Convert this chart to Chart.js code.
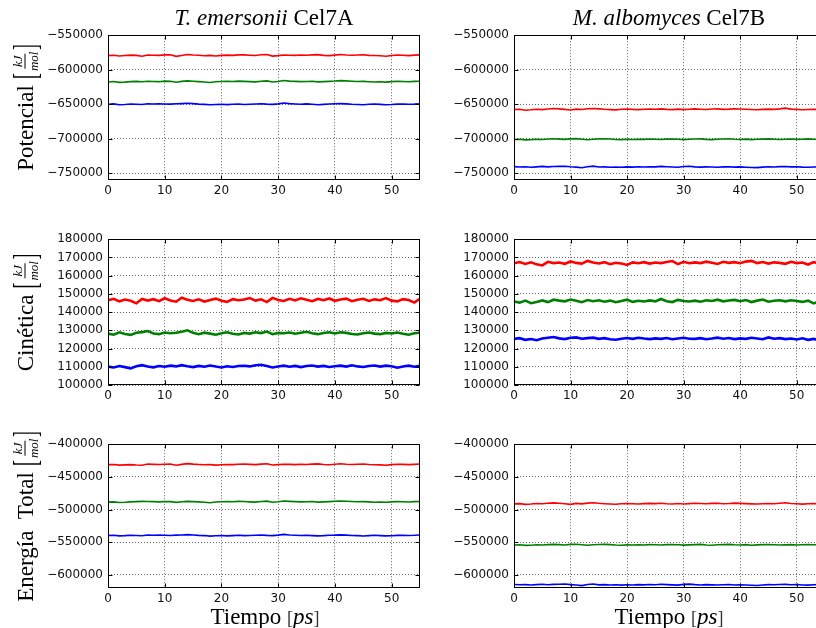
<!DOCTYPE html>
<html>
<head>
<meta charset="utf-8">
<script src="https://cdn.jsdelivr.net/npm/chart.js@4.4.1/dist/chart.umd.min.js"></script>
<style>
  html,body{margin:0;padding:0;background:#fff;}
  #root{position:relative;width:816px;height:628px;overflow:hidden;background:#fff;}
  canvas{position:absolute;}
  .ttl{position:absolute;font-family:'Liberation Serif',serif;font-size:23px;line-height:26px;white-space:nowrap;transform:translateX(-50%);color:#000;}
  .ttl i{font-style:italic;}
  .ylab{position:absolute;font-family:'Liberation Serif',serif;font-size:23px;white-space:nowrap;transform:translate(-50%,-50%) rotate(-90deg);display:flex;align-items:center;color:#000;}
  .frac{display:inline-flex;flex-direction:column;align-items:center;font-style:italic;font-size:13px;line-height:13px;margin:0 1px;}
  .frac .num{border-bottom:1px solid #000;padding:0 2px 1px 2px;}
  .frac .den{padding-top:1px;}
  .br{display:inline-block;font-size:22px;transform:scale(0.8,1.5);font-weight:normal;}
  .xlab{position:absolute;font-family:'Liberation Serif',serif;font-size:23px;line-height:26px;white-space:nowrap;transform:translate(-50%,-50%);color:#000;}
  .xlab .sb{font-size:18px;color:#333;}
</style>
</head>
<body>
<div id="root"></div>
<script>
// ---------------- DATA ----------------
const tiempo = [0,1,2,3,4,5,6,7,8,9,10,11,12,13,14,15,16,17,18,19,20,21,22,23,24,25,26,27,
  28,29,30,31,32,33,34,35,36,37,38,39,40,41,42,43,44,45,46,47,48,49,50,51,52,53,54,55];
const xTicks = [0,10,20,30,40,50];
const potTicks = [-750000,-700000,-650000,-600000,-550000];
const cinTicks = [100000,110000,120000,130000,140000,150000,160000,170000,180000];
const totTicks = [-600000,-550000,-500000,-450000,-400000];

// Potencial – T. emersonii Cel7A
const potTeRojo = [-579600,-579100,-580200,-579400,-578900,-579300,-580600,-578800,
  -579000,-579200,-578600,-578500,-580700,-579400,-578100,-578700,
  -579100,-579700,-579300,-580100,-579300,-578900,-579200,-578600,
  -578500,-579000,-579400,-578300,-577900,-580300,-579600,-578700,
  -579000,-579300,-578800,-579100,-578600,-578200,-579200,-579600,
  -578900,-578100,-578700,-579100,-578800,-578400,-579200,-579500,
  -579800,-580500,-579400,-578700,-579000,-579600,-578900,-578500];
const potTeVerde = [-617800,-617200,-618400,-618000,-617300,-616900,-617500,-616800,
  -617100,-617400,-616600,-616900,-618200,-617000,-616300,-616700,
  -617300,-617900,-618600,-617400,-617100,-616800,-617200,-616600,
  -616900,-617300,-617700,-616700,-616200,-617900,-617100,-615800,
  -616600,-617000,-617400,-617100,-616800,-617700,-617300,-616900,
  -616500,-615900,-616300,-616800,-617200,-616900,-617400,-617800,
  -617600,-618000,-617300,-616800,-617100,-617500,-617000,-616700];
const potTeAzul = [-650200,-649600,-650800,-650400,-649700,-650100,-650600,-649500,
  -649800,-649400,-649700,-650000,-649500,-649200,-648800,-649300,
  -650000,-650300,-650900,-650500,-650100,-650700,-650200,-649800,
  -650400,-650100,-649800,-649400,-650000,-650300,-649600,-648400,
  -649200,-649700,-650100,-649600,-650200,-650800,-650300,-649700,
  -649500,-649200,-649600,-650100,-650400,-650900,-650200,-649800,
  -650300,-650800,-650500,-650000,-649700,-650200,-649900,-649400];

// Potencial – M. albomyces Cel7B
const potMaRojo = [-657800,-657400,-658800,-658200,-657300,-657900,-657000,-656400,
  -656900,-657600,-658500,-657200,-657800,-656700,-656200,-656900,
  -657500,-657900,-658300,-657400,-657100,-657600,-657900,-657300,
  -657000,-657400,-656800,-657600,-657900,-657200,-658000,-657400,
  -656900,-657300,-657700,-657100,-656800,-657500,-657200,-656700,
  -657000,-657400,-657800,-658100,-657600,-657200,-657500,-656800,
  -655800,-657200,-657600,-658200,-657700,-657300,-657900,-657500];
const potMaVerde = [-701300,-700900,-701800,-701500,-700800,-701200,-700600,-700200,
  -700700,-701100,-700300,-700000,-700800,-701600,-700900,-700400,
  -700200,-700600,-701200,-701500,-701000,-701300,-700800,-701100,
  -700600,-700900,-701300,-700700,-700500,-700900,-701400,-701000,
  -700600,-700300,-701100,-701500,-700900,-700600,-700200,-700800,
  -701200,-700700,-701500,-701000,-700700,-700400,-700900,-701300,
  -701000,-700600,-701100,-700800,-700400,-700900,-701300,-700800];
const potMaAzul = [-740600,-741100,-740800,-741400,-740900,-740300,-741000,-740500,
  -740200,-740000,-740800,-741300,-742300,-740700,-739900,-741200,
  -740900,-741400,-741100,-741600,-741000,-741300,-740800,-741200,
  -740700,-741000,-740300,-740800,-741200,-741600,-740500,-740100,
  -740900,-741300,-740900,-741200,-741500,-741000,-740700,-741300,
  -741000,-741400,-741800,-742100,-741300,-740800,-741100,-740600,
  -740500,-741000,-740700,-741300,-741600,-741100,-740800,-741300];

// Cinética – T. emersonii Cel7A
const cinTeRojo = [146500,147300,145900,146900,146200,144800,147200,146300,
  147100,146000,147600,146400,145700,147900,146800,146100,
  147000,145800,146700,147400,146200,145600,147100,146500,
  146900,147700,146300,147000,145500,147800,146600,146100,
  147300,146400,147600,146800,146000,147200,146500,147500,
  146200,146900,147400,146000,146800,147300,146100,147000,
  146500,147700,146300,145900,147100,146600,145200,147400];
const cinTeVerde = [128200,127600,128900,128000,127500,128700,129000,129600,
  128300,127900,128800,128400,128700,129200,130000,128600,
  127900,128700,128200,127600,128400,128900,128100,127700,
  128600,128200,128900,128500,129300,127900,128600,128400,
  128800,128100,128700,129200,128400,127900,128500,128900,
  128300,128900,128600,128000,127700,128400,128800,128200,
  127900,128600,128300,128800,128100,127600,128400,128700];
const cinTeAzul = [110100,109600,110400,109800,109100,110300,110900,110200,
  109700,110400,110000,110600,110200,110900,110300,109800,
  110500,110000,110700,110100,109600,110300,109900,110400,
  110600,110200,110800,111100,110400,109600,110200,110600,
  110000,110500,109800,110400,110700,110100,110500,109900,
  110300,110600,110100,110800,110200,109900,110400,110700,
  110100,110600,110300,109500,110200,110600,110000,110500];

// Cinética – M. albomyces Cel7B
const cinMaRojo = [166800,167500,166400,167300,166200,165600,167600,166900,
  167200,166500,167800,167000,166600,168100,167200,166700,
  167400,166300,167100,166700,165900,167300,166800,167400,
  166600,167200,166900,167500,168000,166300,167600,166800,
  167300,166900,167700,167100,166400,167600,167000,167400,
  166800,167700,168100,166900,167500,166600,167300,167000,
  166500,167600,166900,167200,166100,167400,166800,167300];
const cinMaVerde = [145800,145200,146300,144900,145600,146400,145500,146800,
  146300,145900,146900,146200,145400,146600,146000,146500,
  145700,146300,145400,146100,146800,145600,146200,145800,
  146400,145900,147200,146000,145500,146700,146100,145800,
  146300,145700,146500,146100,146800,145900,146400,146700,
  146000,146600,145500,146300,146900,145700,146200,146500,
  145900,146500,146100,145600,146300,144800,146000,146400];
const cinMaAzul = [125300,125700,124800,125200,124600,125500,125900,126300,
  125600,125200,125900,126100,125400,125700,126000,125300,
  125700,125100,124800,125400,125800,125300,125900,125500,
  125200,125600,125300,125800,125100,125500,125900,125400,
  125300,125700,125100,125500,126000,125400,125800,125200,
  125600,125300,125900,125500,125100,126100,125400,125700,
  125200,125500,125000,125600,124800,125300,124600,125500];

// Energía Total – T. emersonii Cel7A
const totTeRojo = [-431300,-431000,-432000,-431600,-431200,-431800,-432100,-430400,
  -430800,-431100,-430600,-430300,-432200,-430900,-429800,-430500,
  -431000,-431400,-431200,-432000,-431500,-431100,-431300,-430700,
  -430400,-430800,-431200,-430500,-430000,-431900,-431200,-430600,
  -430900,-431200,-430700,-431000,-430500,-430100,-431100,-431400,
  -430700,-430000,-430600,-431000,-430700,-430300,-431100,-431400,
  -431700,-432300,-431300,-430600,-430900,-431300,-430800,-430400];
const totTeVerde = [-488600,-488200,-489200,-488900,-488300,-487900,-487500,-487600,
  -487900,-488300,-487600,-487900,-489000,-488100,-487400,-487800,
  -488300,-488900,-489600,-488400,-488000,-487700,-488100,-487500,
  -487700,-488200,-488600,-487700,-487100,-488800,-488000,-487000,
  -487400,-487900,-488300,-488000,-487700,-488600,-488200,-487800,
  -487300,-486800,-487200,-487700,-488100,-487800,-488300,-488700,
  -488500,-488900,-488200,-487700,-488000,-488400,-487900,-487600];
const totTeAzul = [-539600,-539200,-540300,-539900,-539300,-539700,-540100,-539000,
  -539300,-538900,-539300,-539600,-539100,-538800,-538400,-538900,
  -539500,-539800,-540600,-540100,-539700,-540200,-539800,-539400,
  -539900,-539600,-539300,-538900,-539500,-539800,-539100,-538000,
  -538800,-539300,-539700,-539200,-539800,-540300,-539900,-539300,
  -539100,-538700,-539100,-539600,-539900,-540400,-539800,-539400,
  -539800,-540300,-540000,-539500,-539200,-539700,-539400,-538900];

// Energía Total – M. albomyces Cel7B
const totMaRojo = [-491300,-490900,-492100,-491600,-490700,-491200,-490400,-489700,
  -490300,-491000,-492000,-490600,-491300,-490100,-489600,-490400,
  -491000,-491500,-491900,-491000,-490700,-491200,-491600,-490900,
  -490500,-490900,-490300,-491100,-491500,-490700,-491400,-490900,
  -490400,-490800,-491200,-490600,-490300,-491000,-490700,-490200,
  -490500,-490900,-491300,-491600,-491100,-490700,-491000,-490300,
  -489500,-490700,-491100,-491700,-491200,-490800,-491400,-491000];
const totMaVerde = [-554300,-553900,-554800,-554500,-553800,-554200,-553600,-553200,
  -553700,-554100,-553300,-553000,-553800,-554600,-553900,-553400,
  -553200,-553600,-554200,-554500,-554000,-554300,-553800,-554100,
  -553600,-553900,-554300,-553700,-553500,-553900,-554400,-554000,
  -553600,-553300,-554100,-554500,-553900,-553600,-553200,-553800,
  -554200,-553700,-554500,-554000,-553700,-553400,-553900,-554300,
  -554000,-553600,-554100,-553800,-553400,-553900,-554300,-553800];
const totMaAzul = [-614600,-615100,-614800,-615400,-614900,-614300,-615000,-614500,
  -614200,-614000,-614800,-615300,-616300,-614700,-613900,-615200,
  -614900,-615400,-615100,-615600,-615000,-615300,-614800,-615200,
  -614700,-615000,-614300,-614800,-615200,-615600,-614500,-614100,
  -614900,-615300,-614900,-615200,-615500,-615000,-614700,-615300,
  -615000,-615400,-615800,-616100,-615300,-614800,-615100,-614600,
  -614500,-615000,-614700,-615300,-615600,-615100,-614800,-615300];

// ---------------- LAYOUT / STYLE ----------------
const colores = ['#ff0000', '#008000', '#0000ff'];
const cols = [{l:108, r:420}, {l:514, r:825}];
const rows = [
  {t:35, b:180, min:-760000, max:-550000, ticks:potTicks, lw:1.6},
  {t:239, b:385, min:100000, max:180000, ticks:cinTicks, lw:2.6},
  {t:444, b:588, min:-620000, max:-400000, ticks:totTicks, lw:1.6}
];
const seriesGrid = [
  [[potTeRojo, potTeVerde, potTeAzul], [potMaRojo, potMaVerde, potMaAzul]],
  [[cinTeRojo, cinTeVerde, cinTeAzul], [cinMaRojo, cinMaVerde, cinMaAzul]],
  [[totTeRojo, totTeVerde, totTeAzul], [totMaRojo, totMaVerde, totMaAzul]]
];
const YW = 108, XH = 24, PADT = 8, PADR = 2;

const fmt = v => (v < 0 ? '\u2212' + Math.abs(v) : String(v));

const framePlugin = {
  id: 'frame',
  afterDraw(chart) {
    const {ctx, chartArea: a, scales: {x, y}} = chart;
    const L = Math.round(a.left) + 0.5, R = Math.round(a.right) - 0.5;
    const T = Math.round(a.top) + 0.5, B = Math.round(a.bottom) - 0.5;
    ctx.save();
    ctx.strokeStyle = '#000';
    ctx.lineWidth = 1;
    ctx.setLineDash([]);
    ctx.beginPath();
    y.ticks.forEach(t => {
      const p = Math.round(y.getPixelForValue(t.value)) + 0.5;
      ctx.moveTo(L, p); ctx.lineTo(L + 4, p);
      ctx.moveTo(R, p); ctx.lineTo(R - 4, p);
    });
    x.ticks.forEach(t => {
      const p = Math.round(x.getPixelForValue(t.value)) + 0.5;
      ctx.moveTo(p, B); ctx.lineTo(p, B - 4);
      ctx.moveTo(p, T); ctx.lineTo(p, T + 4);
    });
    ctx.stroke();
    ctx.strokeRect(L, T, R - L, B - T);
    ctx.restore();
  }
};

const root = document.getElementById('root');

rows.forEach((row, ri) => {
  cols.forEach((col, ci) => {
    const cl = col.l - YW, ct = row.t - PADT;
    const w = col.r - cl + PADR, h = row.b - ct + XH;
    const cv = document.createElement('canvas');
    cv.width = w; cv.height = h;
    cv.style.left = cl + 'px'; cv.style.top = ct + 'px';
    cv.style.width = w + 'px'; cv.style.height = h + 'px';
    root.appendChild(cv);
    const datasets = seriesGrid[ri][ci].map((s, k) => ({
      data: s.map((v, i) => ({x: tiempo[i], y: v})),
      borderColor: colores[k],
      borderWidth: row.lw,
      pointRadius: 0,
      tension: 0,
      fill: false
    }));
    const chart = new Chart(cv, {
      type: 'line',
      data: {datasets},
      options: {
        responsive: false,
        maintainAspectRatio: false,
        animation: false,
        devicePixelRatio: 1,
        layout: {padding: {top: PADT, right: PADR, left: 0, bottom: 0}},
        plugins: {legend: {display: false}, tooltip: {enabled: false}},
        scales: {
          x: {
            type: 'linear', min: 0, max: 55,
            afterBuildTicks: s => { s.ticks = xTicks.map(v => ({value: v})); },
            afterFit: s => { s.height = XH; },
            ticks: {padding: 4, color: '#111', font: {family: 'DejaVu Sans', size: 12}, callback: v => String(v), maxRotation: 0},
            grid: {color: 'rgba(0,0,0,0.6)', lineWidth: 1, drawTicks: false},
            border: {display: false, dash: [1, 2]}
          },
          y: {
            type: 'linear', min: row.min, max: row.max,
            afterBuildTicks: s => { s.ticks = row.ticks.map(v => ({value: v})); },
            afterFit: s => { s.width = YW; },
            ticks: {padding: 5, color: '#111', font: {family: 'DejaVu Sans', size: 12}, callback: v => fmt(v)},
            grid: {color: 'rgba(0,0,0,0.6)', lineWidth: 1, drawTicks: false},
            border: {display: false, dash: [1, 2]}
          }
        }
      },
      plugins: [framePlugin]
    });
    // align the plot area exactly with the target box
    const a = chart.chartArea;
    const dh = Math.round((row.b - row.t) - (a.bottom - a.top));
    const dw = Math.round((col.r - col.l) - (a.right - a.left));
    if (dh !== 0 || dw !== 0) chart.resize(w + dw, h + dh);
    const a2 = chart.chartArea;
    cv.style.left = Math.round(col.l - a2.left) + 'px';
    cv.style.top = Math.round(row.t - a2.top) + 'px';
  });
});

// ---------------- TEXT ----------------
function addEl(cls, html, x, y) {
  const d = document.createElement('div');
  d.className = cls; d.innerHTML = html;
  d.style.left = x + 'px'; d.style.top = y + 'px';
  root.appendChild(d);
}
const fracHTML = '<span class="br">[</span><span class="frac"><span class="num">kJ</span><span class="den">mol</span></span><span class="br">]</span>';
addEl('ttl', '<i>T. emersonii</i> Cel7A', 264, 5);
addEl('ttl', '<i>M. albomyces</i> Cel7B', 669, 5);
addEl('ylab', 'Potencial&nbsp;' + fracHTML, 25, 107);
addEl('ylab', 'Cinética&nbsp;' + fracHTML, 25, 312);
addEl('ylab', 'Energía&nbsp;&nbsp;Total&nbsp;' + fracHTML, 25, 516);
addEl('xlab', 'Tiempo <span class="sb">[</span><i>ps</i><span class="sb">]</span>', 265, 617);
addEl('xlab', 'Tiempo <span class="sb">[</span><i>ps</i><span class="sb">]</span>', 669, 617);
</script>
</body>
</html>
